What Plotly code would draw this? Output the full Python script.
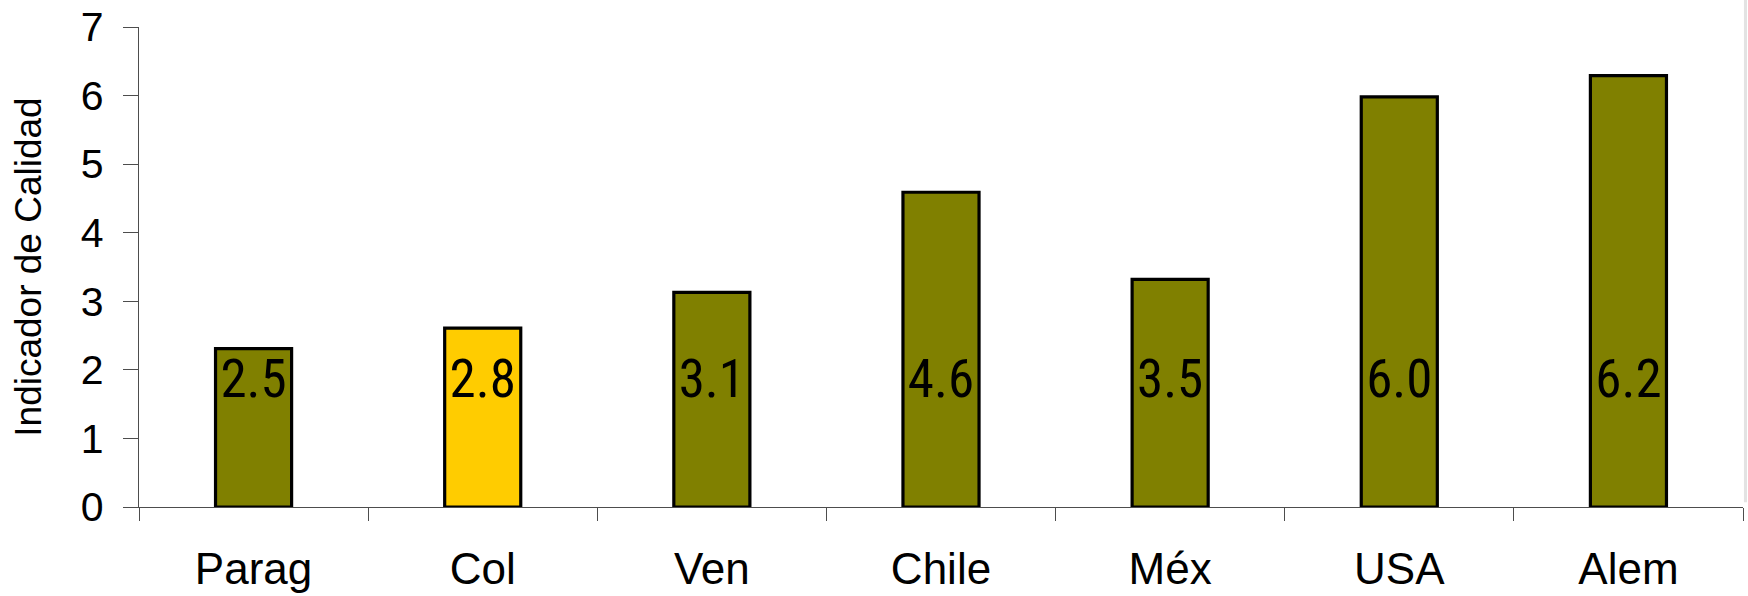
import plotly.graph_objects as go

# ---- data ----
categories = ["Parag", "Col", "Ven", "Chile", "Méx", "USA", "Alem"]
bar_values = [2.31, 2.61, 3.13, 4.59, 3.32, 5.98, 6.29]
label_texts = ["2.5", "2.8", "3.1", "4.6", "3.5", "6.0", "6.2"]
y_ticks = [0, 1, 2, 3, 4, 5, 6, 7]
y_title = "Indicador de Calidad"
highlight = "Col"

# ---- style ----
OLIVE = "#808000"
YELLOW = "#FFCC00"
colors = [YELLOW if c == highlight else OLIVE for c in categories]
LABEL_LEVEL = 1.80
AXIS_COLOR = "#4d4d4d"
NARROW = ("Liberation Sans Narrow, Arial Narrow, Noto Sans ExtraCondensed, "
          "Noto Sans Condensed, Roboto Condensed, DejaVu Sans Condensed, sans-serif")

fig = go.Figure()
fig.add_trace(go.Bar(
    x=categories, y=bar_values,
    marker=dict(color=colors, line=dict(color="black", width=3.2)),
    width=0.332, hoverinfo="x+y", showlegend=False,
))
fig.add_trace(go.Scatter(
    x=categories, y=[LABEL_LEVEL] * len(categories),
    mode="text", text=label_texts, textposition="middle center",
    textfont=dict(family=NARROW, size=53, color="black"),
    showlegend=False, hoverinfo="skip", cliponaxis=False,
))

fig.update_layout(
    width=1748, height=596,
    margin=dict(l=139, r=5, t=27, b=89, autoexpand=False),
    paper_bgcolor="white", plot_bgcolor="white",
    font=dict(family="Liberation Sans, Arial, sans-serif", color="black"),
    xaxis=dict(
        type="category", range=[-0.5, 6.5], automargin=False,
        showline=True, linecolor=AXIS_COLOR, linewidth=1.3,
        ticks="outside", tickson="boundaries", ticklen=13, tickwidth=1.3, tickcolor=AXIS_COLOR,
        tickfont=dict(size=44, color="black"), ticklabelstandoff=23,
        showgrid=False, zeroline=False,
    ),
    yaxis=dict(
        range=[0, 7], tickvals=y_ticks, automargin=False,
        showline=True, linecolor=AXIS_COLOR, linewidth=1.3,
        ticks="outside", ticklen=15, tickwidth=1.3, tickcolor=AXIS_COLOR,
        tickfont=dict(size=41, color="black"), ticklabelstandoff=11,
        showgrid=False, zeroline=False,
        title=dict(text=y_title, font=dict(size=37, color="black"), standoff=27),
    ),
    shapes=[dict(type="rect", xref="paper", yref="paper",
                 x0=1.0006, x1=1.0025, y0=0.01, y1=1.06,
                 fillcolor="#e3e3e3", line=dict(width=0), layer="below")],
)

fig.write_html("out.html", config={"displayModeBar": False},
               post_script="document.body.style.margin='0';document.body.style.overflow='hidden';")
